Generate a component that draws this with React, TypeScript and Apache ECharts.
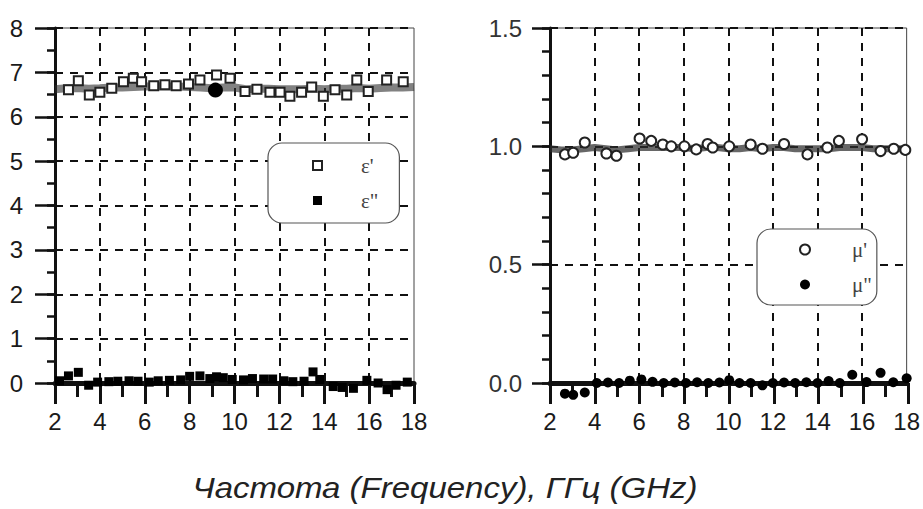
import React, { useEffect, useRef } from "react";
import * as echarts from "echarts";

// ---- Left panel: permittivity ----
const epsRealF = [2.6, 3.04, 3.53, 4.0, 4.53, 5.05, 5.49, 5.86, 6.4, 6.9, 7.4, 7.95, 8.46, 9.2, 9.8, 10.47, 11.0, 11.58, 12.03, 12.47, 12.99, 13.44, 13.96, 14.48, 15.0, 15.45, 15.96, 16.78, 17.52];
const epsRealV = [6.61, 6.81, 6.49, 6.55, 6.64, 6.79, 6.87, 6.79, 6.7, 6.72, 6.7, 6.74, 6.83, 6.94, 6.87, 6.57, 6.62, 6.55, 6.55, 6.46, 6.55, 6.67, 6.46, 6.61, 6.49, 6.83, 6.57, 6.83, 6.79];

const epsBandF = [2, 2.5, 3, 3.5, 4, 4.5, 5, 5.5, 6, 6.5, 7, 7.5, 8, 8.5, 9, 9.5, 10, 10.5, 11, 11.5, 12, 12.5, 13, 13.5, 14, 14.5, 15, 15.5, 16, 16.5, 17, 17.5, 18];
const epsBandV = [6.62, 6.64, 6.65, 6.63, 6.64, 6.66, 6.66, 6.67, 6.68, 6.69, 6.68, 6.68, 6.67, 6.66, 6.64, 6.66, 6.66, 6.62, 6.63, 6.63, 6.62, 6.62, 6.62, 6.63, 6.62, 6.63, 6.63, 6.65, 6.63, 6.65, 6.66, 6.66, 6.67];

const epsBlobF = [9.15];
const epsBlobV = [6.6];

const epsImagF = [2.2, 2.6, 3.04, 3.5, 3.9, 4.4, 4.8, 5.3, 5.7, 6.2, 6.6, 7.1, 7.6, 8.0, 8.46, 8.9, 9.2, 9.5, 9.9, 10.4, 10.8, 11.3, 11.7, 12.2, 12.6, 13.1, 13.5, 13.8, 14.4, 14.8, 15.3, 15.9, 16.4, 16.8, 17.2, 17.7];
const epsImagV = [0.05, 0.16, 0.24, -0.05, 0.02, 0.03, 0.04, 0.05, 0.04, 0.02, 0.05, 0.06, 0.07, 0.15, 0.16, 0.1, 0.14, 0.12, 0.08, 0.07, 0.1, 0.09, 0.09, 0.05, 0.03, 0.04, 0.25, 0.08, -0.08, -0.1, -0.12, 0.06, 0.0, -0.15, -0.05, 0.02];

// ---- Right panel: permeability ----
const muRealF = [2.67, 3.04, 3.56, 4.53, 4.98, 6.02, 6.54, 7.06, 7.44, 8.03, 8.56, 9.07, 9.3, 10.04, 11.0, 11.53, 12.5, 13.55, 14.44, 14.96, 16.0, 16.83, 17.42, 17.94];
const muRealV = [0.966, 0.973, 1.016, 0.97, 0.96, 1.033, 1.023, 1.008, 1.0, 1.0, 0.987, 1.01, 0.995, 1.0, 1.008, 0.99, 1.01, 0.966, 0.995, 1.023, 1.03, 0.98, 0.99, 0.985];

const muBandF = [2, 2.5, 3, 3.5, 4, 4.5, 5, 5.5, 6, 6.5, 7, 7.5, 8, 8.5, 9, 9.5, 10, 10.5, 11, 11.5, 12, 12.5, 13, 13.5, 14, 14.5, 15, 15.5, 16, 16.5, 17, 17.5, 18];
const muBandV = [0.99, 0.985, 0.985, 0.99, 0.995, 0.99, 0.985, 0.99, 0.995, 0.995, 0.995, 0.995, 0.995, 0.99, 0.995, 0.995, 0.99, 0.99, 0.995, 0.99, 0.995, 0.995, 0.99, 0.99, 0.99, 0.99, 0.995, 0.995, 0.995, 0.99, 0.99, 0.99, 0.99];

const muImagF = [2.67, 3.04, 3.56, 4.1, 4.6, 5.1, 5.58, 6.1, 6.6, 7.1, 7.6, 8.1, 8.6, 9.1, 9.6, 10.04, 10.5, 11.0, 11.53, 12.0, 12.5, 13.0, 13.5, 14.0, 14.5, 15.0, 15.56, 16.2, 16.83, 17.4, 18.0];
const muImagV = [-0.045, -0.05, -0.04, 0.0, 0.002, 0.0, 0.01, 0.015, 0.005, 0.0, 0.002, 0.0, 0.003, 0.0, 0.002, 0.012, 0.0, 0.0, -0.01, 0.0, 0.002, 0.0, 0.003, 0.0, 0.008, 0.0, 0.035, 0.004, 0.043, 0.003, 0.02];

// ---- Axes, ticks and labels ----
const xTickLabels = ["2", "4", "6", "8", "10", "12", "14", "16", "18"];
const xMin = 2;
const xMax = 18;
const xMajorStep = 2;
const xMinorStep = 1;
const epsMax = 8;
const epsMajorStep = 1;
const epsMinorStep = 0.5;
const muMax = 1.5;
const muMajorStep = 0.5;
const muMinorStep = 0.1;
const xTitle = "Частота (Frequency), ГГц (GHz)";
const epsNames = ["ε'", "ε\""];
const muNames = ["μ'", "μ\""];

const zip = (f: number[], v: number[]) => f.map((x, i) => [x, v[i]]);

const SANS = "'Liberation Sans', Arial, sans-serif";
const SERIF = "'Liberation Serif', 'DejaVu Serif', serif";

function xAxisCfg(gridIndex: number) {
  return {
    type: "value",
    gridIndex,
    min: xMin,
    max: xMax,
    interval: xMajorStep,
    axisLine: { show: true, onZero: false, lineStyle: { color: "#111", width: 5 } },
    axisTick: { show: false },
    axisLabel: {
      show: true,
      margin: 26,
      fontSize: 24,
      fontFamily: SANS,
      color: "#1a1a1a",
      formatter: (v: number) => xTickLabels[Math.round((v - xMin) / xMajorStep)] ?? "",
    },
    splitLine: {
      show: true,
      showMinLine: false,
      showMaxLine: false,
      lineStyle: { color: "#111", width: 2, type: [8, 7] },
    },
  };
}

// Tick marks are drawn as solid split lines of thin "strip" grids that sit just
// outside each plot, sharing the plot's axis ranges.
type Strip = { grid: any; xAxis: any; yAxis: any };

function xTickStrip(gridIndex: number, left: number, width: number, top: number, len: number, step: number): Strip {
  return {
    grid: { left, top, width, height: len, show: false },
    xAxis: {
      type: "value",
      gridIndex,
      min: xMin,
      max: xMax,
      interval: step,
      axisLine: { show: false },
      axisTick: { show: false },
      axisLabel: { show: false },
      splitLine: { show: true, showMinLine: true, showMaxLine: true, lineStyle: { color: "#111", width: 3, type: "solid" } },
    },
    yAxis: { type: "value", gridIndex, min: 0, max: 1, show: false, splitLine: { show: false } },
  };
}

function yTickStrip(gridIndex: number, axisX: number, len: number, top: number, height: number, max: number, step: number): Strip {
  return {
    grid: { left: axisX - len, top, width: len, height, show: false },
    xAxis: { type: "value", gridIndex, min: 0, max: 1, show: false, splitLine: { show: false } },
    yAxis: {
      type: "value",
      gridIndex,
      min: 0,
      max,
      interval: step,
      axisLine: { show: false },
      axisTick: { show: false },
      axisLabel: { show: false },
      splitLine: { show: true, showMinLine: true, showMaxLine: true, lineStyle: { color: "#111", width: 2.5, type: "solid" } },
    },
  };
}

export default function App() {
  const ref = useRef<HTMLDivElement>(null);
  useEffect(() => {
    if (!ref.current) return;
    const chart = echarts.init(ref.current, undefined, { renderer: "svg" });

    const strips: Strip[] = [
      xTickStrip(2, 55, 359, 383, 21, xMajorStep),
      xTickStrip(3, 55, 359, 383, 14, xMinorStep),
      yTickStrip(4, 55, 20, 28, 355, epsMax, epsMajorStep),
      yTickStrip(5, 55, 8, 28, 355, epsMax, epsMinorStep),
      xTickStrip(6, 550, 358, 383, 21, xMajorStep),
      xTickStrip(7, 550, 358, 383, 14, xMinorStep),
      yTickStrip(8, 550, 18, 28, 355, muMax, muMajorStep),
      yTickStrip(9, 550, 8, 28, 355, muMax, muMinorStep),
    ];

    chart.setOption({
      animation: false,
      backgroundColor: "#ffffff",
      grid: [
        { left: 55, top: 28, width: 359, height: 355, show: true, borderColor: "#444", borderWidth: 1, backgroundColor: "transparent" },
        { left: 550, top: 28, width: 358, height: 355, show: true, borderColor: "#444", borderWidth: 1, backgroundColor: "transparent" },
        ...strips.map((s) => s.grid),
      ],
      xAxis: [xAxisCfg(0), xAxisCfg(1), ...strips.map((s) => s.xAxis)],
      yAxis: [
        {
          type: "value",
          gridIndex: 0,
          min: 0,
          max: epsMax,
          interval: epsMajorStep,
          axisLine: { show: true, onZero: false, lineStyle: { color: "#111", width: 3 } },
          axisTick: { show: false },
          axisLabel: { margin: 32, fontSize: 24, fontFamily: SANS, color: "#1a1a1a" },
          splitLine: { show: true, showMinLine: false, showMaxLine: true, lineStyle: { color: "#111", width: 2, type: [8, 7] } },
        },
        {
          type: "value",
          gridIndex: 1,
          min: 0,
          max: muMax,
          interval: muMajorStep,
          axisLine: { show: true, onZero: false, lineStyle: { color: "#111", width: 3 } },
          axisTick: { show: false },
          axisLabel: { margin: 28, fontSize: 24, fontFamily: SANS, color: "#333", formatter: (v: number) => v.toFixed(1) },
          splitLine: { show: true, showMinLine: false, showMaxLine: true, lineStyle: { color: "#111", width: 2, type: [8, 7] } },
        },
        ...strips.map((s) => s.yAxis),
      ],
      legend: [
        {
          orient: "vertical",
          left: 268,
          top: 143,
          data: epsNames,
          selectedMode: false,
          padding: [12, 21, 12, 44],
          itemGap: 14,
          itemWidth: 9,
          itemHeight: 9,
          borderColor: "#555",
          borderWidth: 1.2,
          borderRadius: 14,
          backgroundColor: "#fff",
          textStyle: { fontFamily: SERIF, fontSize: 21, color: "#444", padding: [0, 0, 0, 34] },
        },
        {
          orient: "vertical",
          left: 757,
          top: 229,
          data: muNames,
          selectedMode: false,
          padding: [10, 5, 10, 42],
          itemGap: 14,
          itemWidth: 10,
          itemHeight: 10,
          borderColor: "#555",
          borderWidth: 1.2,
          borderRadius: 14,
          backgroundColor: "#fff",
          textStyle: { fontFamily: SERIF, fontSize: 21, color: "#444", padding: [0, 0, 0, 37] },
        },
      ],
      series: [
        {
          name: "epsBand",
          type: "line",
          xAxisIndex: 0,
          yAxisIndex: 0,
          data: zip(epsBandF, epsBandV),
          showSymbol: false,
          symbol: "none",
          lineStyle: { color: "rgba(45,45,45,0.6)", width: 8 },
          z: 3,
        },
        {
          name: epsNames[0],
          type: "scatter",
          xAxisIndex: 0,
          yAxisIndex: 0,
          clip: false,
          data: zip(epsRealF, epsRealV),
          symbol: "emptyRect",
          symbolSize: 9,
          itemStyle: { color: "#222", borderColor: "#222", borderWidth: 1.3, opacity: 1 },
          z: 4,
        },
        {
          name: "epsBlob",
          type: "scatter",
          xAxisIndex: 0,
          yAxisIndex: 0,
          clip: false,
          data: zip(epsBlobF, epsBlobV),
          symbol: "circle",
          symbolSize: 15,
          itemStyle: { color: "#000", opacity: 1 },
          z: 5,
        },
        {
          name: epsNames[1],
          type: "scatter",
          xAxisIndex: 0,
          yAxisIndex: 0,
          clip: false,
          data: zip(epsImagF, epsImagV),
          symbol: "rect",
          symbolSize: 9,
          itemStyle: { color: "#000", opacity: 1 },
          z: 4,
        },
        {
          name: "muBand",
          type: "line",
          xAxisIndex: 1,
          yAxisIndex: 1,
          data: zip(muBandF, muBandV),
          showSymbol: false,
          symbol: "none",
          lineStyle: { color: "rgba(45,45,45,0.72)", width: 7 },
          z: 3,
        },
        {
          name: muNames[0],
          type: "scatter",
          xAxisIndex: 1,
          yAxisIndex: 1,
          clip: false,
          data: zip(muRealF, muRealV),
          symbol: "emptyCircle",
          symbolSize: 10,
          itemStyle: { color: "#222", borderColor: "#222", borderWidth: 1.3, opacity: 1 },
          z: 4,
        },
        {
          name: muNames[1],
          type: "scatter",
          xAxisIndex: 1,
          yAxisIndex: 1,
          clip: false,
          data: zip(muImagF, muImagV),
          symbol: "circle",
          symbolSize: 10,
          itemStyle: { color: "#000", opacity: 1 },
          z: 4,
        },
      ],
      graphic: [
        {
          type: "text",
          x: 445,
          y: 488,
          scaleX: 1.1,
          style: {
            text: xTitle,
            fontFamily: SANS,
            fontStyle: "italic",
            fontSize: 30,
            fill: "#222",
            textAlign: "center",
            textVerticalAlign: "middle",
          },
        },
      ],
    });
    return () => chart.dispose();
  }, []);
  return <div ref={ref} style={{ position: "fixed", left: 0, top: 0, width: 923, height: 509, background: "#fff" }} />;
}
